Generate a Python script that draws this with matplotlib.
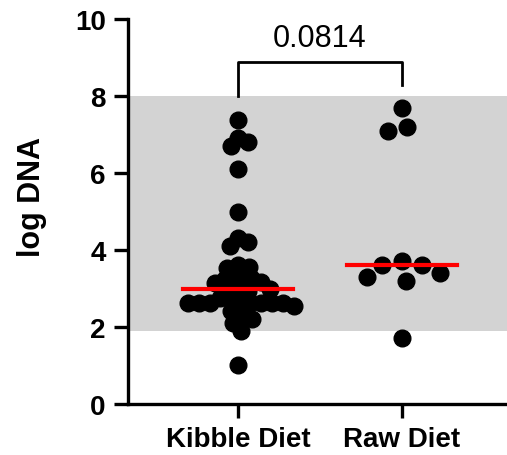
import numpy as np
import matplotlib.pyplot as plt

plt.rcParams['font.family'] = ['Liberation Sans', 'DejaVu Sans']

groups = ['Kibble Diet', 'Raw Diet']

kibble = [7.38, 6.91, 6.80, 6.69, 6.10, 5.00, 4.30, 4.22, 4.11,
          3.62, 3.55, 3.53, 3.33, 3.27, 3.25, 3.16, 3.13, 3.03, 2.99,
          2.94, 2.81, 2.75, 2.62, 2.62, 2.62, 2.62, 2.62, 2.62, 2.62,
          2.62, 2.55, 2.42, 2.29, 2.20, 2.10, 1.90, 1.01]
raw = [7.69, 7.19, 7.08, 3.71, 3.61, 3.61, 3.39, 3.29, 3.20, 1.71]

p_value = '0.0814'
band = (1.9, 8.0)


def swarm(ax, values, center, gap):
    """Greedy beeswarm: returns x positions in data units."""
    vals = np.asarray(values, dtype=float)
    pix = ax.transData.transform(np.column_stack([np.full(len(vals), center), vals]))
    placed = []
    out = np.zeros(len(vals))
    for i in np.argsort(-vals):
        cx, cy = pix[i]
        cands = [0.0]
        for px, py in placed:
            dy = cy - py
            if abs(dy) < gap:
                dx = np.sqrt(gap ** 2 - dy ** 2)
                cands += [px + dx - cx, px - dx - cx]
        for c in sorted(cands, key=abs):
            if all((cx + c - px) ** 2 + (cy - py) ** 2 >= gap ** 2 - 1e-6
                   for px, py in placed):
                break
        placed.append((cx + c, cy))
        out[i] = ax.transData.inverted().transform((cx + c, cy))[0]
    return out


fig = plt.figure(figsize=(5.07, 4.56), dpi=100)
ax = fig.add_axes([128 / 507, 51 / 456, 1 - 128 / 507, 385 / 456])
ax.set_xlim(-0.67, 1.64)
ax.set_ylim(0, 10)

ax.axhspan(band[0], band[1], color='#d3d3d3', zorder=0, lw=0)

# the small group is spread wider, the big one packs tighter
for i, (data, gap) in enumerate([(kibble, 11), (raw, 20)]):
    xs = swarm(ax, data, i, gap)
    ax.plot(xs, data, 'o', color='black', markersize=12, zorder=3,
            clip_on=False)
    med = np.median(data)
    ax.plot([i - 0.335, i + 0.335], [med, med], color='red', lw=3, zorder=4)

# significance bracket
ax.plot([0, 0, 1, 1], [8.0, 8.88, 8.88, 8.29], color='black', lw=2,
        clip_on=False)
ax.text(0.5, 9.12, p_value, ha='center', va='bottom', fontsize=22)

ax.spines['top'].set_visible(False)
ax.spines['right'].set_visible(False)
for s in ['left', 'bottom']:
    ax.spines[s].set_linewidth(2.4)

ax.set_yticks([0, 2, 4, 6, 8, 10])
ax.set_xticks([0, 1])
ax.set_xticklabels(groups)
ax.tick_params(width=2.4, length=10, labelsize=20, pad=6)
for lab in ax.get_xticklabels() + ax.get_yticklabels():
    lab.set_fontweight('bold')

ax.set_ylabel('log DNA', fontsize=22, fontweight='bold')
ax.yaxis.set_label_coords(-0.215, 0.54)

fig.savefig('out.png', dpi=100)
